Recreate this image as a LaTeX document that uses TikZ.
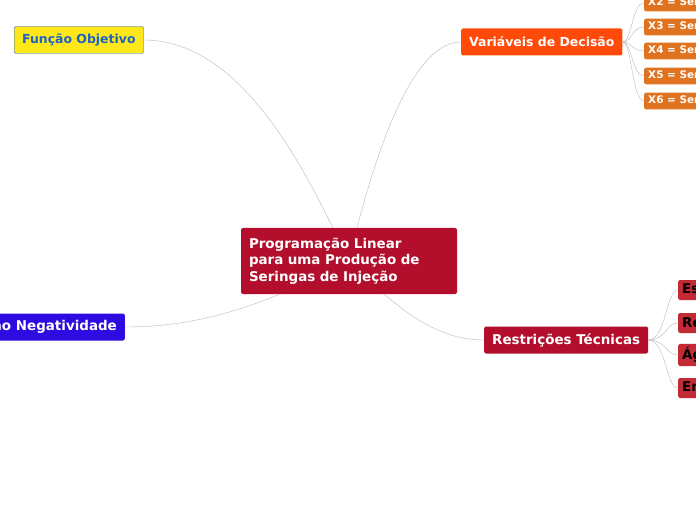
\documentclass[tikz,border=0pt]{standalone}
\usepackage{fontspec}
\setmainfont{DejaVu Sans}
\usetikzlibrary{positioning}
\definecolor{darkred}{HTML}{B30E2B}
\definecolor{fnyellow}{HTML}{FFE81A}
\definecolor{fnblue}{HTML}{1C63C4}
\definecolor{varorange}{HTML}{FF4A0A}
\definecolor{xorange}{HTML}{E0731F}
\definecolor{negblue}{HTML}{2C0CE0}
\definecolor{subred}{HTML}{C42A35}
\definecolor{linkgray}{HTML}{B8B8B8}
\begin{document}
\begin{tikzpicture}[x=1bp,y=-1bp,
  topic/.style={rounded corners=2pt,font=\bfseries\fontsize{13.5}{16}\selectfont,text=white,inner xsep=8pt,minimum height=27bp},
  leaf/.style={rounded corners=2pt,font=\bfseries\fontsize{10.5}{12}\selectfont,text=white,fill=xorange,minimum height=16bp,inner xsep=4pt,anchor=west},
  tech/.style={rounded corners=2pt,font=\bfseries\fontsize{13.5}{16}\selectfont,text=black,fill=subred,minimum height=20bp,inner xsep=4pt,anchor=west},
  link/.style={draw=linkgray,thin}]
  \useasboundingbox (0,0) rectangle (696,520);
  \clip (0,0) rectangle (696,520);

  \node[fill=darkred,text=white,font=\bfseries\fontsize{13.5}{16.5}\selectfont,align=left,
    minimum width=216bp,minimum height=66bp,text width=200bp,rounded corners=2pt] (root) at (349,261)
    {Programação Linear\\para uma Produção de\\Seringas de Injeção};

  \node[topic,fill=fnyellow,draw=fnblue,text=fnblue,font=\bfseries\fontsize{12.5}{15}\selectfont,anchor=west] (fobj) at (14,40) {Função Objetivo};
  \node[topic,fill=varorange,font=\bfseries\fontsize{12.5}{15}\selectfont,anchor=west] (var) at (461,42) {Variáveis de Decisão};
  \node[topic,fill=darkred,anchor=west] (restr) at (484,340) {Restrições Técnicas};
  \node[topic,fill=negblue,anchor=east] (neg) at (125,327) {Não Negatividade};

  % variaveis
  \foreach \k/\y in {2/3,3/27,4/51,5/76,6/101} {
    \node[leaf] (x\k) at (644,\y) {X\k{} = Seringas};
    \draw[link] (var.east) .. controls (632,42) and (632,\y) .. (x\k.west);
  }

  % restricoes tecnicas
  \foreach \t/\y [count=\n] in {Estoque/290,Recursos/323,Água/355,Energia/388} {
    \node[tech] (r\n) at (678,\y) {\t};
    \draw[link] (restr.east) .. controls (666,340) and (666,\y) .. (r\n.west);
  }

  \draw[link] (333,228) .. controls (290,140) and (230,40) .. (fobj.east);
  \draw[link] (357,228) .. controls (385,120) and (420,42) .. (var.west);
  \draw[link] (384,294) .. controls (420,325) and (450,340) .. (restr.west);
  \draw[link] (280,294) .. controls (230,315) and (180,327) .. (neg.east);
\end{tikzpicture}
\end{document}
